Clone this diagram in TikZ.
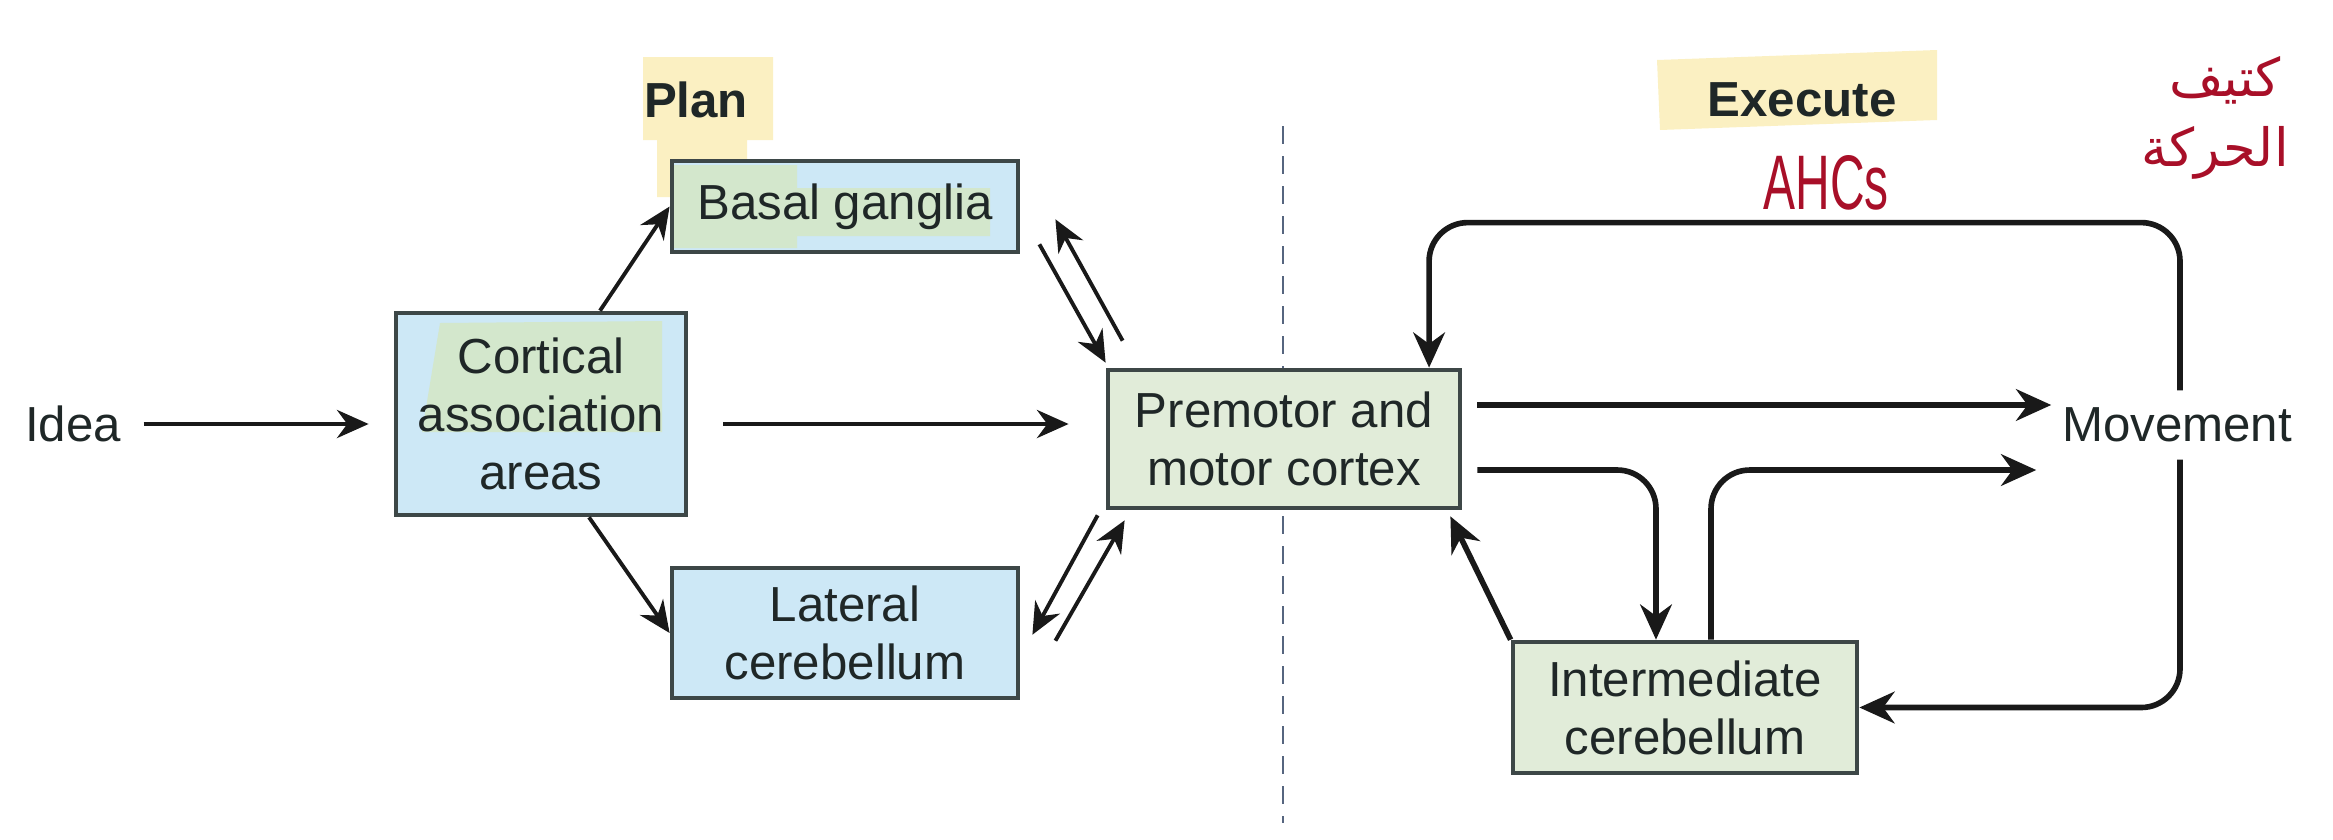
\documentclass[tikz,border=0pt]{standalone}
\usepackage{fontspec}
\setmainfont{Liberation Sans}
\newfontfamily\arabicfont[Script=Arabic]{DejaVu Sans}
\TeXXeTstate=1
\usetikzlibrary{arrows.meta,calc,backgrounds}
\definecolor{boxblue}{HTML}{CDE8F6}
\definecolor{boxgreen}{HTML}{E1ECD9}
\definecolor{hlgreen}{HTML}{D3E7CC}
\definecolor{hlyellow}{HTML}{FBF0C2}
\definecolor{ink}{HTML}{1F2727}
\definecolor{edgec}{HTML}{3D4747}
\definecolor{pen}{HTML}{A80F28}
\definecolor{dashc}{HTML}{56657F}
\tikzset{
  box/.style={draw=edgec, line width=1.3pt, inner sep=0pt, align=center, text=ink,
    font=\fontsize{14}{16.5}\selectfont},
  lbl/.style={inner sep=0pt, text=ink, font=\fontsize{14}{16.5}\selectfont},
  head/.style={inner sep=0pt, text=ink, font=\fontsize{14}{16.5}\selectfont\bfseries},
  arrL/.style={draw=black!90, line width=1.1pt, -{Stealth[length=9pt,width=8pt]}},
  arrR/.style={draw=black!90, line width=1.6pt, rounded corners=11pt, -{Stealth[length=10pt,width=9pt]}},
  note/.style={inner sep=0pt, text=pen},
}
\begin{document}
\begin{tikzpicture}[x={(0.01cm,0)}, y={(0,-0.01cm)}]
\useasboundingbox (0,0) rectangle (2333,839);

% text labels
\node[lbl, minimum width=1.40cm, minimum height=0.5cm] (idea) at (73,424) {Idea};
\node[lbl, minimum width=2.80cm, minimum height=0.68cm] (mv) at (2177,425) {Movement};
\node[head] (plan) at (696,100) {Plan};
\node[head] (exec) at (1802,100) {Execute};
\node[note, font=\fontsize{22}{24}\selectfont] (ahc) at (1826,183) {\scalebox{0.62}[1]{AHCs}};
\node[note, font=\arabicfont\fontsize{15}{17}\selectfont] (ar1) at (2225,80) {\beginR كتيف\endR};
\node[note, font=\arabicfont\fontsize{15}{17}\selectfont] (ar2) at (2215,153) {\beginR الحركة\endR};

% boxes
\node[box, minimum width=3.46cm, minimum height=0.91cm] (bg) at (845,206.5) {Basal ganglia};
\node[box, minimum width=2.90cm, minimum height=2.02cm] (cc) at (541,414) {Cortical\\association\\areas};
\node[box, minimum width=3.46cm, minimum height=1.30cm] (lc) at (845,633) {Lateral\\cerebellum};
\node[box, minimum width=3.52cm, minimum height=1.38cm] (pm) at (1284,439) {Premotor and\\motor cortex};
\node[box, minimum width=3.44cm, minimum height=1.31cm] (ic) at (1685,707.5) {Intermediate\\cerebellum};

% background: dashed divider, highlights, fills
\begin{scope}[on background layer]
  \coordinate (dtop) at (1283,126);
  \coordinate (dbot) at (1283,823);
  \draw[dashc, line width=0.8pt, dash pattern=on 0.18cm off 0.12cm] (dtop) -- (dbot);
  \fill[hlyellow] (643,57) -- (773,57) -- (773,140) -- (747,140) -- (747,197) -- (657,197) -- (657,140) -- (643,140) -- cycle;
  \fill[hlyellow] (1657,60) -- (1937,50) -- (1937,120) -- (1660,130) -- cycle;
  \fill[boxblue] (bg.south west) rectangle (bg.north east);
  \fill[boxblue] (cc.south west) rectangle (cc.north east);
  \fill[boxblue] (lc.south west) rectangle (lc.north east);
  \fill[boxgreen] (pm.south west) rectangle (pm.north east);
  \fill[boxgreen] (ic.south west) rectangle (ic.north east);
  \fill[hlgreen] (673,165) -- (797,165) -- (797,188) -- (990,188) -- (990,236) -- (797,236) -- (797,248) -- (673,248) -- cycle;
  \fill[hlgreen] (440,323) -- (662,321) -- (662,432) -- (422,432) -- cycle;
\end{scope}

% plan connectors
\draw[arrL] (idea.east) -- ([xshift=-0.25cm]idea.east -| cc.west);
\draw[arrL] ([xshift=0.35cm]idea.east -| cc.east) -- ([xshift=-0.37cm]idea.east -| pm.west);
\draw[arrL] ([xshift=0.59cm]cc.north) -- (bg.west);
\draw[arrL] ([xshift=0.48cm]cc.south) -- (lc.west);
\draw[arrL] ([xshift=0.19cm,yshift=0.10cm]bg.south east) -- ([yshift=0.05cm]pm.north west);
\draw[arrL] ([xshift=0.17cm,yshift=0.27cm]pm.north west) -- ([xshift=0.35cm,yshift=0.35cm]bg.south east);
\draw[arrL] ([xshift=-0.08cm,yshift=-0.05cm]pm.south west) -- ([xshift=0.12cm,yshift=-0.69cm]lc.north east);
\draw[arrL] ([xshift=0.35cm,yshift=-0.75cm]lc.north east) -- ([xshift=0.19cm,yshift=-0.10cm]pm.south west);

% execute connectors
\draw[arrR] ([xshift=0.15cm,yshift=0.34cm]pm.east) -- ([xshift=0.15cm,yshift=0.34cm]pm.east -| mv.west);
\draw[arrR] ([xshift=0.15cm,yshift=-0.31cm]pm.east) -| ([xshift=-0.29cm]ic.north);
\draw[arrR] ([xshift=0.26cm]ic.north) |- ([yshift=-0.45cm]mv.west);
\draw[arrR] (ic.north west) -- ([xshift=-0.12cm,yshift=-0.06cm]pm.south east);
\draw[arrR] ([xshift=0.03cm]mv.north) |- ([xshift=1.45cm,yshift=1.45cm]pm.north) -- ([xshift=1.45cm]pm.north);
\draw[arrR] ([xshift=0.03cm]mv.south) |- (ic.east);
\end{tikzpicture}
\end{document}
